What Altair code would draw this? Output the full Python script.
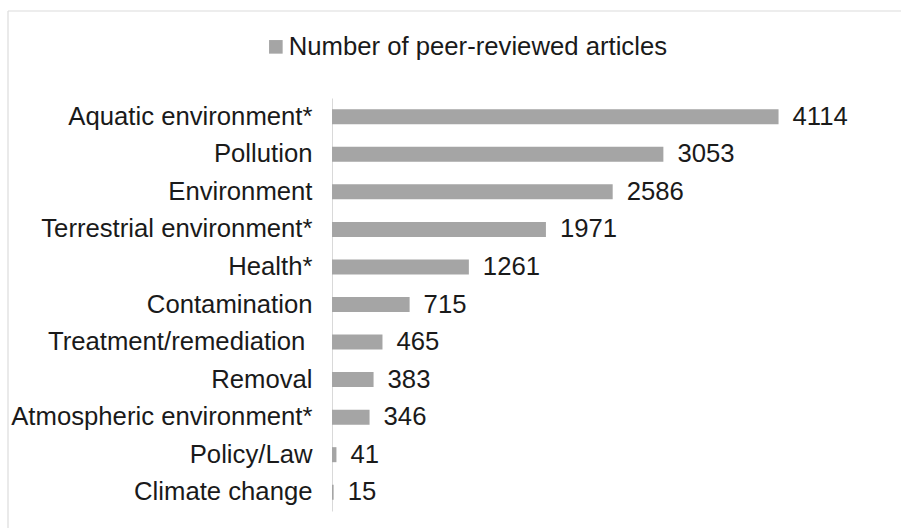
import altair as alt
import pandas as pd

# Topic categories and article counts
categories = [
    "Aquatic environment*",
    "Pollution",
    "Environment",
    "Terrestrial environment*",
    "Health*",
    "Contamination",
    "Treatment/remediation\u00a0\u2060",
    "Removal",
    "Atmospheric environment*",
    "Policy/Law",
    "Climate change",
]
counts = [4114, 3053, 2586, 1971, 1261, 715, 465, 383, 346, 41, 15]
series_name = "Number of peer-reviewed articles"

df = pd.DataFrame({"topic": categories, "count": counts, "series": series_name})

FONT = "Liberation Sans"
TEXT = "#1a1a1a"
BAR = "#a5a5a5"
FS = 25.7

W, H = 521, 413

y_enc = alt.Y(
    "topic:N",
    sort=categories,
    scale=alt.Scale(paddingInner=0.6, paddingOuter=0.3),
    axis=alt.Axis(
        title=None,
        ticks=False,
        domainColor="#d9d9d9",
        domainWidth=1,
        labelFont=FONT,
        labelFontSize=FS,
        labelColor=TEXT,
        labelPadding=20,
        labelLimit=0,
    ),
)
x_enc = alt.X(
    "count:Q",
    scale=alt.Scale(domain=[0, 4800], nice=False),
    axis=None,
)

bars = alt.Chart(df).mark_bar(color=BAR).encode(
    x=x_enc,
    y=y_enc,
    color=alt.Color(
        "series:N",
        scale=alt.Scale(range=[BAR]),
        legend=alt.Legend(
            title=None,
            orient="none",
            legendX=-69,
            legendY=-64,
            symbolType="square",
            symbolSize=185,
            symbolStrokeWidth=0,
            labelFont=FONT,
            labelFontSize=FS,
            labelColor=TEXT,
            labelOffset=0,
            padding=0,
            labelLimit=0,
        ),
    ),
)

labels = alt.Chart(df).mark_text(
    align="left", baseline="middle", dx=14, font=FONT, fontSize=FS, color=TEXT
).encode(x=x_enc, y=y_enc, text="count:Q")

# Light frame lines along the top and left edges
frame_top = alt.Chart(df.head(1)).mark_rule(color="#dcdcdc", strokeWidth=1.2).encode(
    x=alt.value(-324), x2=alt.value(W + 200), y=alt.value(-87)
)
frame_left = alt.Chart(df.head(1)).mark_rule(color="#dcdcdc", strokeWidth=1.2).encode(
    x=alt.value(-324), y=alt.value(-87), y2=alt.value(H + 200)
)

chart = (
    alt.layer(frame_top, frame_left, bars, labels)
    .properties(
        width=W,
        height=H,
        background="white",
        autosize=alt.AutoSizeParams(type="none"),
        padding={"left": 332, "top": 98, "right": 901 - 332 - W, "bottom": 528 - 98 - H},
    )
    .configure_view(strokeWidth=0, stroke=None)
)

chart.save("out.html", embed_options={"renderer": "svg", "actions": False})
